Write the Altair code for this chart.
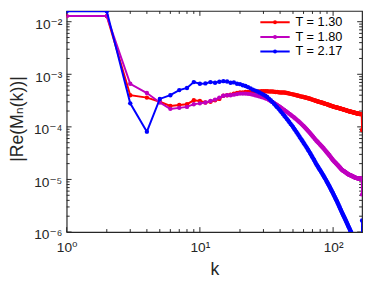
import altair as alt
import pandas as pd

FONT = "Liberation Sans, DejaVu Sans, Arial"
AX = "#262626"

series_names = ["T = 1.30", "T = 1.80", "T = 2.17"]
series_colors = ["#ff0000", "#bf00bf", "#0000ff"]

k_values = list(range(1, 166))

# |Re(M_n(k))| in units of 1e-4, one value per k = 1..165
red_e4 = [
    128, 128, 4.0, 3.6, 3.0, 2.5, 2.6, 2.7, 3.2, 3.1,
    2.9, 3.0, 3.2, 3.4, 3.9, 4.0, 4.1, 4.3, 4.4, 4.5,
    4.5, 4.6, 4.6, 4.6, 4.7, 4.7, 4.7, 4.7, 4.75, 4.75,
    4.75, 4.75, 4.7, 4.7, 4.7, 4.65, 4.6, 4.6, 4.55, 4.5,
    4.5, 4.5, 4.5, 4.45, 4.4, 4.35, 4.3, 4.25, 4.2, 4.15,
    4.1, 4.05, 4.0, 3.95, 3.9, 3.85, 3.8, 3.77, 3.73, 3.7,
    3.66, 3.62, 3.58, 3.55, 3.5, 3.46, 3.42, 3.38, 3.34, 3.3,
    3.26, 3.22, 3.18, 3.14, 3.1, 3.07, 3.04, 3.01, 2.98, 2.95,
    2.92, 2.9, 2.87, 2.84, 2.81, 2.79, 2.76, 2.73, 2.71, 2.68,
    2.66, 2.63, 2.61, 2.58, 2.56, 2.53, 2.51, 2.49, 2.46, 2.44,
    2.42, 2.4, 2.39, 2.37, 2.36, 2.34, 2.33, 2.31, 2.3, 2.28,
    2.27, 2.25, 2.24, 2.22, 2.21, 2.2, 2.18, 2.17, 2.15, 2.14,
    2.12, 2.11, 2.1, 2.08, 2.07, 2.06, 2.04, 2.03, 2.02, 2.0,
    1.99, 1.98, 1.97, 1.96, 1.95, 1.94, 1.93, 1.92, 1.92, 1.91,
    1.9, 1.89, 1.88, 1.87, 1.86, 1.85, 1.84, 1.84, 1.83, 1.82,
    1.81, 1.8, 1.8, 1.79, 1.78, 1.77, 1.77, 1.76, 1.76, 1.75,
    1.75, 1.75, 1.75, 1.75, 0.87,
]
mag_e4 = [
    128, 128, 6.6, 4.4, 2.9, 2.2, 2.3, 2.4, 2.7, 2.8,
    2.9, 3.1, 3.3, 3.6, 3.9, 4.0, 4.0, 4.1, 4.2, 4.3,
    4.3, 4.3, 4.25, 4.2, 4.1, 4.0, 3.9, 3.8, 3.7, 3.6,
    3.5, 3.4, 3.25, 3.11, 2.98, 2.85, 2.72, 2.61, 2.49, 2.39,
    2.28, 2.18, 2.09, 2.0, 1.92, 1.85, 1.77, 1.7, 1.63, 1.57,
    1.51, 1.45, 1.39, 1.33, 1.28, 1.23, 1.18, 1.13, 1.08, 1.04,
    0.995, 0.953, 0.912, 0.874, 0.837, 0.801, 0.767, 0.735, 0.703, 0.674,
    0.645, 0.618, 0.591, 0.566, 0.545, 0.527, 0.509, 0.492, 0.475, 0.459,
    0.444, 0.429, 0.415, 0.401, 0.387, 0.374, 0.362, 0.349, 0.338, 0.326,
    0.315, 0.305, 0.295, 0.285, 0.275, 0.266, 0.257, 0.248, 0.24, 0.232,
    0.226, 0.22, 0.215, 0.209, 0.204, 0.199, 0.194, 0.189, 0.184, 0.18,
    0.175, 0.171, 0.167, 0.162, 0.158, 0.154, 0.151, 0.149, 0.147, 0.145,
    0.143, 0.141, 0.139, 0.137, 0.135, 0.133, 0.131, 0.129, 0.127, 0.126,
    0.124, 0.123, 0.122, 0.121, 0.12, 0.119, 0.118, 0.117, 0.116, 0.115,
    0.114, 0.113, 0.112, 0.111, 0.11, 0.109, 0.108, 0.107, 0.107, 0.106,
    0.106, 0.105, 0.105, 0.105, 0.104, 0.104, 0.104, 0.104, 0.104, 0.104,
    0.104, 0.104, 0.104, 0.104, 0.052,
]
blue_e4 = [
    158, 158, 2.8, 0.81, 3.4, 4.0, 5.0, 5.5, 7.1, 6.6,
    6.7, 7.1, 6.9, 7.2, 7.4, 7.3, 6.9, 7.0, 6.6, 6.5,
    6.2, 6.0, 5.7, 5.4, 5.1, 4.9, 4.7, 4.5, 4.3, 4.1,
    3.9, 3.7, 3.45, 3.2, 2.97, 2.75, 2.55, 2.37, 2.2, 2.04,
    1.89, 1.75, 1.63, 1.52, 1.41, 1.32, 1.23, 1.14, 1.07, 0.993,
    0.925, 0.862, 0.803, 0.748, 0.697, 0.65, 0.605, 0.568, 0.533, 0.5,
    0.469, 0.44, 0.413, 0.388, 0.364, 0.342, 0.321, 0.301, 0.283, 0.265,
    0.249, 0.234, 0.219, 0.206, 0.193, 0.184, 0.174, 0.166, 0.157, 0.15,
    0.142, 0.135, 0.128, 0.122, 0.116, 0.11, 0.105, 0.0995, 0.0946, 0.0899,
    0.0854, 0.0811, 0.0771, 0.0733, 0.0696, 0.0661, 0.0629, 0.0597, 0.0568, 0.054,
    0.0513, 0.0488, 0.0464, 0.0442, 0.042, 0.04, 0.038, 0.0361, 0.0344, 0.0327,
    0.0311, 0.0296, 0.0281, 0.0267, 0.0254, 0.0242, 0.023, 0.022, 0.0211, 0.0202,
    0.0193, 0.0185, 0.0177, 0.0169, 0.0162, 0.0155, 0.0149, 0.0142, 0.0136, 0.013,
    0.0125, 0.012, 0.0115, 0.011, 0.0105, 0.0101, 0.0097, 0.0093, 0.0089, 0.0085,
    0.0082, 0.0079, 0.0076, 0.0073, 0.007, 0.0067, 0.0064, 0.0062, 0.006, 0.0058,
    0.0056, 0.0054, 0.0052, 0.005, 0.0048, 0.0046, 0.0045, 0.0044, 0.0043, 0.0042,
    0.0041, 0.004, 0.004, 0.004, 0.0166,
]

x_major = [1, 10, 100]
x_minor = [2, 3, 4, 5, 6, 7, 8, 9, 20, 30, 40, 50, 60, 70, 80, 90]
x_labels = ["10\u2070", "10\u00b9", "10\u00b2"]
y_major = [1e-6, 1e-5, 1e-4, 1e-3, 1e-2]
y_minor = [m * d for d in [1e-6, 1e-5, 1e-4, 1e-3] for m in range(2, 10)]
y_labels = ["10\u207b\u2076", "10\u207b\u2075", "10\u207b\u2074", "10\u207b\u00b3", "10\u207b\u00b2"]

W, H = 302, 226

rows = []
for name, vals in zip(series_names, [red_e4, mag_e4, blue_e4]):
    for kk, v in zip(k_values, vals):
        rows.append({"k": kk, "val": v * 1e-4, "series": name})
df = pd.DataFrame(rows)

xs = alt.Scale(type="log", domain=[1, 165], nice=False)
ys = alt.Scale(type="log", domain=[1e-6, 0.016], nice=False)
cs = alt.Scale(domain=series_names, range=series_colors)

x_expr = "[" + ",".join("'%s'" % s for s in x_labels) + "][round(log(datum.value)/LN10)]"
y_expr = "[" + ",".join("'%s'" % s for s in y_labels) + "][round(log(datum.value)/LN10)+6]"

x_axis = alt.Axis(values=x_major, labelExpr=x_expr, ticks=False, domain=False, grid=False,
                  labelFont=FONT, labelFontSize=14, labelColor=AX, labelPadding=9,
                  labelFlush=False, labelOverlap=False,
                  title="k", titleFont=FONT, titleFontSize=18, titleFontWeight="normal",
                  titleColor=AX, titleY=43, titleBaseline="alphabetic")
y_axis = alt.Axis(values=y_major, labelExpr=y_expr, ticks=False, domain=False, grid=False,
                  labelFont=FONT, labelFontSize=14, labelColor=AX, labelPadding=5,
                  labelOffset=3, labelFlush=False, labelOverlap=False,
                  title="|Re(M\u2099(k))|", titleFont=FONT, titleFontSize=18,
                  titleFontWeight="normal", titleColor=AX, titleX=-45, titleY=110,
                  titleBaseline="alphabetic", titleAlign="center")

legend = alt.Legend(title=None, orient="none", legendX=197, legendY=6,
                    symbolType="M-1 0 L1 0 M-0.07 0 A0.07 0.07 0 1 1 0.07 0 A0.07 0.07 0 1 1 -0.07 0",
                    symbolSize=900, symbolStrokeWidth=2, clipHeight=11, rowPadding=1,
                    labelFont=FONT, labelFontSize=13, labelColor="#000000", labelOffset=5,
                    padding=0)


def xticks(vals, y0, y1):
    return alt.Chart(pd.DataFrame({"v": vals})).mark_rule(color=AX, strokeWidth=1).encode(
        x=alt.X("v:Q", scale=xs, axis=x_axis), y=alt.value(y0), y2=alt.value(y1))


def yticks(vals, x0, x1):
    return alt.Chart(pd.DataFrame({"v": vals})).mark_rule(color=AX, strokeWidth=1).encode(
        y=alt.Y("v:Q", scale=ys, axis=y_axis), x=alt.value(x0), x2=alt.value(x1))


tick_layers = [
    xticks(x_major, H, H - 5), xticks(x_minor, H, H - 3),
    xticks(x_major, 0, 5), xticks(x_minor, 0, 3),
    yticks(y_major, 0, 5), yticks(y_minor, 0, 3),
    yticks(y_major, W, W - 5), yticks(y_minor, W, W - 3),
]

data_layers = []
for name in series_names:
    base = alt.Chart(df).transform_filter(alt.datum.series == name)
    line = base.mark_line(strokeWidth=2, clip=True).encode(
        x=alt.X("k:Q", scale=xs, axis=x_axis),
        y=alt.Y("val:Q", scale=ys, axis=y_axis),
        color=alt.Color("series:N", scale=cs, legend=legend),
    )
    pts = base.mark_point(filled=True, size=20, opacity=1, clip=True).encode(
        x=alt.X("k:Q", scale=xs, axis=x_axis),
        y=alt.Y("val:Q", scale=ys, axis=y_axis),
        color=alt.Color("series:N", scale=cs, legend=None),
    )
    data_layers += [line, pts]

chart = alt.layer(*tick_layers, *data_layers).properties(
    width=W, height=H,
    autosize=alt.AutoSizeParams(type="none"),
    padding={"left": 60, "top": 0, "right": 3, "bottom": 46},
    background="white",
).configure_view(stroke=AX, strokeWidth=1.2)

chart.save("out.html", embed_options={"renderer": "svg", "actions": False})
